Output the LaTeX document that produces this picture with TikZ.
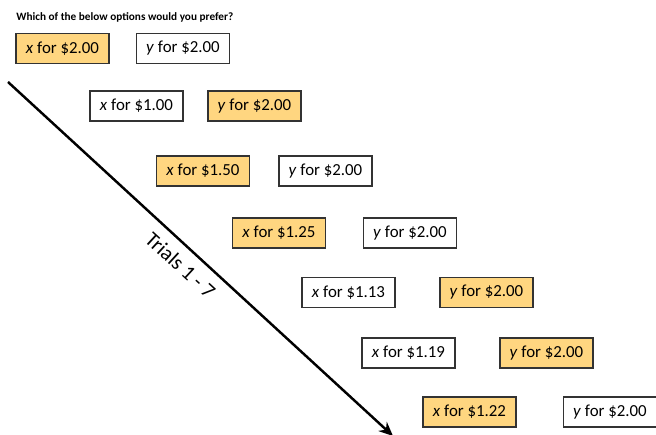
\documentclass[tikz,border=0pt]{standalone}
\usepackage{fontspec}
\setmainfont{Carlito}
\usetikzlibrary{positioning}
\usetikzlibrary{arrows.meta}
\definecolor{pickColor}{rgb}{1,0.84,0.5}
\definecolor{edgeColor}{rgb}{0.2,0.2,0.2}

\begin{document}
\begin{tikzpicture}[x=0.02cm,y=-0.02cm]

          \tikzstyle{optionNode} = [draw=edgeColor, line width=0.6pt, minimum width=1.86cm, minimum height=0.6cm, inner sep=0pt, font=\fontsize{9.6}{11}\selectfont];
          \tikzstyle{pickNode} = [optionNode, fill=pickColor];
          \tikzstyle{trialEdge} = [line width=1.4pt, -{Stealth[length=8pt,width=7pt]}];

          \useasboundingbox (0,0) rectangle (656,435);

          \node[anchor=west, font=\fontsize{6.4}{7}\selectfont\bfseries, inner sep=0pt] (title) at (16,17) {Which of the below options would you prefer?};

          \node[pickNode] (x1) at (62.5,48.5) {\textit{x} for \$2.00};
          \node[optionNode] (y1) at (183,48.5) {\textit{y} for \$2.00};
          \node[optionNode] (x2) at (136.5,106) {\textit{x} for \$1.00};
          \node[pickNode] (y2) at (254.5,106) {\textit{y} for \$2.00};
          \node[pickNode] (x3) at (203,171) {\textit{x} for \$1.50};
          \node[optionNode] (y3) at (325.5,171) {\textit{y} for \$2.00};
          \node[pickNode] (x4) at (279,233) {\textit{x} for \$1.25};
          \node[optionNode] (y4) at (410,233) {\textit{y} for \$2.00};
          \node[optionNode] (x5) at (348.5,292.5) {\textit{x} for \$1.13};
          \node[pickNode] (y5) at (486.5,292.5) {\textit{y} for \$2.00};
          \node[optionNode] (x6) at (408.5,353) {\textit{x} for \$1.19};
          \node[pickNode] (y6) at (546.5,353) {\textit{y} for \$2.00};
          \node[pickNode] (x7) at (469.5,412) {\textit{x} for \$1.22};
          \node[optionNode] (y7) at (610,412) {\textit{y} for \$2.00};

          \coordinate (start) at (8,82);
          \coordinate (end) at (393,436);
          \draw[trialEdge] (start) -- node[sloped, below=2pt, font=\fontsize{12}{14}\selectfont, pos=0.48] (trials) {Trials 1 - 7} (end);
        \end{tikzpicture}
\end{document}
